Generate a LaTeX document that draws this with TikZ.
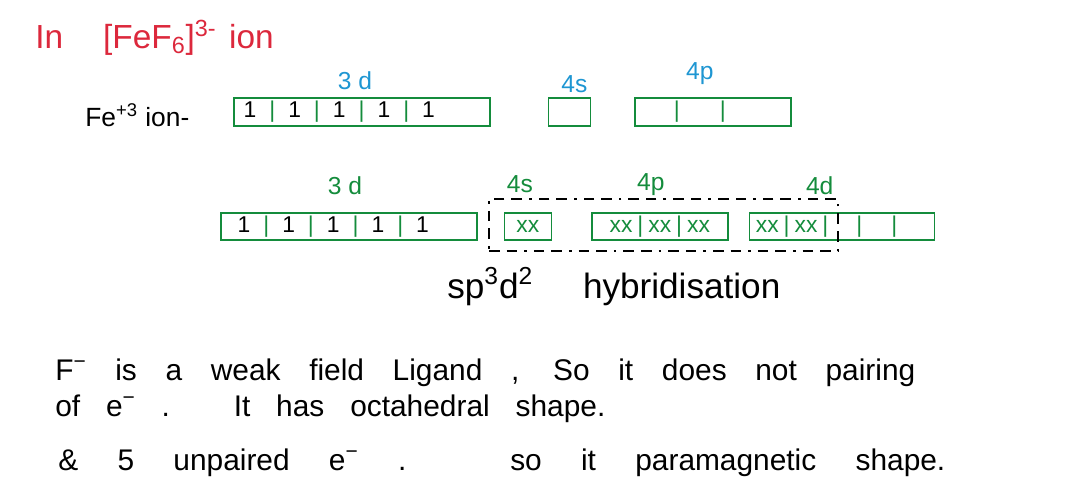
\documentclass[tikz,border=0pt]{standalone}
\usepackage{fontspec}
\setmainfont{Liberation Sans}
\usetikzlibrary{positioning}
\definecolor{inkred}{RGB}{220,40,60}
\definecolor{inkblue}{RGB}{30,150,210}
\definecolor{inkgreen}{RGB}{20,140,60}
\newcommand\sepbar{\textcolor{inkgreen}{|}}
\newcommand\gap{\hspace{2.6mm}}
\newcommand\elec{\gap\sepbar\gap}
\tikzset{
	orbital/.style = {
		draw = inkgreen,
		thick,
		rectangle,
		minimum height = 5.6mm,
		inner sep = 0pt
	},
	filling/.style = {
		font = \fontsize{13}{15}\selectfont,
		inner sep = 0pt
	},
	subshell/.style = {
		font = \fontsize{14}{16}\selectfont,
		inner sep = 1pt
	},
	hybrid/.style = {
		draw = black,
		thick,
		dash pattern = on 6pt off 4pt on 6pt off 4pt on 1.5pt off 4pt,
		rectangle,
		inner sep = 0pt
	},
	hand/.style = {
		font = \fontsize{17}{20}\selectfont,
		anchor = base west,
		inner sep = 0pt
	}
}

\begin{document}
\begin{tikzpicture}
    \useasboundingbox (0,0) rectangle (21.36,-9.84);

    \node [hand, text = inkred, font = \fontsize{19}{22}\selectfont] (title) at (0.7,-0.96)
        {In\hspace{8mm}[FeF\textsubscript{6}]\textsuperscript{3-}\hspace{2.5mm}ion} ;

    % Fe3+ ion
    \node [hand, font = \fontsize{15}{18}\selectfont] (ion) at (1.7,-2.52) {Fe\textsuperscript{+3} ion-} ;
    \node [orbital, minimum width = 51.2mm] (d3a) at (7.24,-2.24) {} ;
    \node [orbital, minimum width = 8.4mm, right = 11.4mm of d3a] (s4a) {} ;
    \node [orbital, minimum width = 31.2mm, right = 8.6mm of s4a] (p4a) {} ;

    \node [filling, anchor = west] (d3aE) at ([xshift = 2mm]d3a.west) {1\elec 1\elec 1\elec 1\elec 1} ;
    \node [filling, xshift = -2.6mm] (p4aE) at (p4a) {\sepbar\hspace{8mm}\sepbar} ;

    \node [subshell, text = inkblue, above = 1mm of d3a, xshift = -1.4mm] (d3aL) {3 d} ;
    \node [subshell, text = inkblue, above = 0.5mm of s4a, xshift = 1mm] (s4aL) {4s} ;
    \node [subshell, text = inkblue, above = 2.2mm of p4a, xshift = -2.6mm] (p4aL) {4p} ;

    % after hybridisation
    \node [orbital, minimum width = 51.2mm, minimum height = 5.4mm] (d3b) at (6.98,-4.53) {} ;
    \node [orbital, minimum width = 9.4mm, minimum height = 5.4mm, right = 5.2mm of d3b] (s4b) {} ;
    \node [orbital, minimum width = 27.2mm, minimum height = 5.4mm, right = 7.8mm of s4b] (p4b) {} ;
    \node [orbital, minimum width = 37mm, minimum height = 5.4mm, right = 4mm of p4b] (d4b) {} ;

    \node [filling, anchor = west] (d3bE) at ([xshift = 3.4mm]d3b.west) {1\elec 1\elec 1\elec 1\elec 1} ;
    \node [filling, text = inkgreen] (s4bE) at (s4b) {xx} ;
    \node [filling, text = inkgreen] (p4bE) at (p4b) {xx\hspace{1mm}|\hspace{1mm}xx\hspace{1mm}|\hspace{1mm}xx} ;
    \node [filling, text = inkgreen, anchor = west] (d4bE) at ([xshift = 1.4mm]d4b.west)
        {xx\hspace{1mm}|\hspace{1mm}xx\hspace{1mm}|\hspace{5.6mm}|\hspace{5.8mm}|} ;

    \node [subshell, text = inkgreen, above = 3mm of d3b, xshift = -0.8mm] (d3bL) {3 d} ;
    \node [subshell, text = inkgreen, above = 3.4mm of s4b, xshift = -1.6mm] (s4bL) {4s} ;
    \node [subshell, text = inkgreen, above = 3mm of p4b, xshift = -1.8mm] (p4bL) {4p} ;
    \node [subshell, text = inkgreen, above = 3mm of d4b, xshift = -4.4mm] (d4bL) {4d} ;

    \node [hybrid, minimum width = 69.8mm, minimum height = 10.4mm] (hyb) at (13.27,-4.5) {} ;
    \node [hand, font = \fontsize{20}{23}\selectfont] (hybL) at (8.94,-5.96)
        {\makebox[6.66cm][s]{sp\textsuperscript{3}d\textsuperscript{2} hybridisation}} ;

    % notes
    \node [hand] (note1) at (1.1,-7.6)
        {\makebox[17.2cm][s]{F\textsuperscript{−} is a weak field Ligand , So it does not pairing}} ;
    \node [hand] (note2) at (1.1,-8.32)
        {\makebox[11cm][s]{of e\textsuperscript{−} . It has octahedral shape.}} ;
    \node [hand] (note3) at (1.16,-9.4)
        {\makebox[17.74cm][s]{\& 5 unpaired e\textsuperscript{−} . so it paramagnetic shape.}} ;
\end{tikzpicture}
\end{document}
